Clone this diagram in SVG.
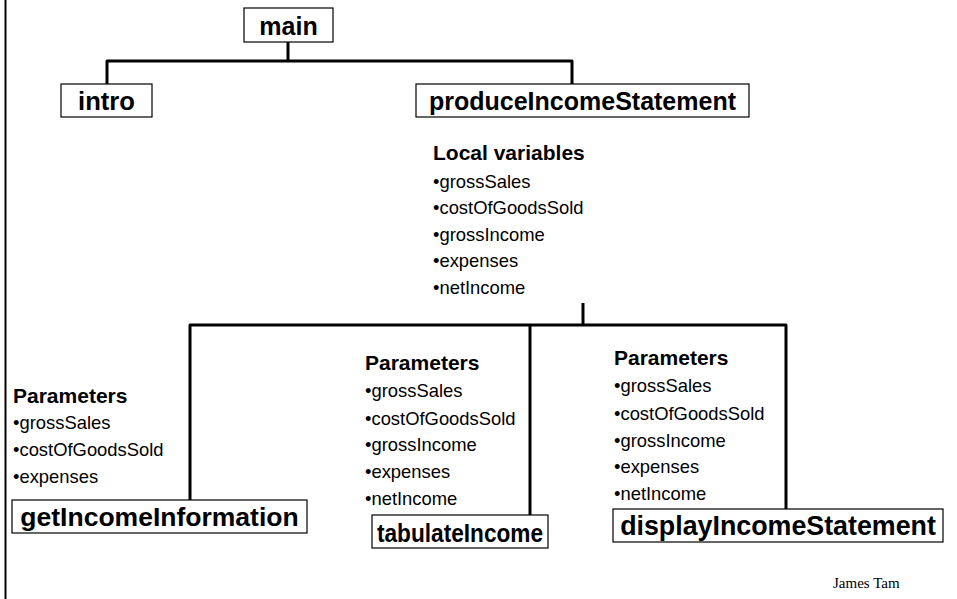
<svg xmlns="http://www.w3.org/2000/svg" width="957" height="599" viewBox="0 0 957 599">
  <style>
    .box { fill: #ffffff; stroke: #000000; stroke-width: 1.2; }
    .title { font-family: "Liberation Sans", Arial, sans-serif; font-weight: bold; fill: #000000; text-anchor: middle; }
    .head { font-family: "Liberation Sans", Arial, sans-serif; font-weight: bold; font-size: 21px; fill: #000000; }
    .item { font-family: "Liberation Sans", Arial, sans-serif; font-size: 18.4px; fill: #000000; }
    .wire { fill: none; stroke: #000000; stroke-width: 3; stroke-linejoin: round; }
  </style>

  <!-- page edge on the left -->
  <line x1="5.5" y1="0" x2="5.5" y2="599" stroke="#000000" stroke-width="2"/>

  <!-- connectors -->
  <g id="connectors">
    <path class="wire" d="M288 42 V61"/>
    <path class="wire" d="M107 84 V61 H572 V84"/>
    <path class="wire" d="M583 303 V325"/>
    <path class="wire" d="M190 500 V325 H786 V509"/>
    <path class="wire" d="M530 325 V515"/>
  </g>

  <g id="main">
    <rect class="box" x="244" y="8" width="89" height="34"/>
    <text class="title" x="288.5" y="35" font-size="25">main</text>
  </g>

  <g id="intro">
    <rect class="box" x="61" y="84" width="91" height="33"/>
    <text class="title" x="106.5" y="110" font-size="25.6">intro</text>
  </g>

  <g id="produceIncomeStatement">
    <rect class="box" x="416" y="84" width="333" height="33"/>
    <text class="title" x="582.5" y="110" font-size="25">produceIncomeStatement</text>
    <text class="head" x="433" y="160">Local variables</text>
    <text class="item" x="433" y="188">•grossSales</text>
    <text class="item" x="433" y="214">•costOfGoodsSold</text>
    <text class="item" x="433" y="240.5">•grossIncome</text>
    <text class="item" x="433" y="267">•expenses</text>
    <text class="item" x="433" y="293.5">•netIncome</text>
  </g>

  <g id="getIncomeInformation">
    <text class="head" x="13" y="403">Parameters</text>
    <text class="item" x="13" y="429">•grossSales</text>
    <text class="item" x="13" y="456">•costOfGoodsSold</text>
    <text class="item" x="13" y="482.5">•expenses</text>
    <rect class="box" x="12" y="500" width="295" height="33"/>
    <text class="title" x="159.5" y="526" font-size="26.5">getIncomeInformation</text>
  </g>

  <g id="tabulateIncome">
    <text class="head" x="365" y="370">Parameters</text>
    <text class="item" x="365" y="397">•grossSales</text>
    <text class="item" x="365" y="424.5">•costOfGoodsSold</text>
    <text class="item" x="365" y="451">•grossIncome</text>
    <text class="item" x="365" y="478">•expenses</text>
    <text class="item" x="365" y="505">•netIncome</text>
    <rect class="box" x="372" y="515" width="176" height="33"/>
    <text class="title" x="460" y="542" font-size="25" textLength="166" lengthAdjust="spacingAndGlyphs">tabulateIncome</text>
  </g>

  <g id="displayIncomeStatement">
    <text class="head" x="614" y="365" font-size="23.7">Parameters</text>
    <text class="item" x="614" y="392" font-size="19.5">•grossSales</text>
    <text class="item" x="614" y="419.5" font-size="19.5">•costOfGoodsSold</text>
    <text class="item" x="614" y="446.5" font-size="19.5">•grossIncome</text>
    <text class="item" x="614" y="473" font-size="19.5">•expenses</text>
    <text class="item" x="614" y="500" font-size="19.5">•netIncome</text>
    <rect class="box" x="613" y="509" width="330" height="33"/>
    <text class="title" x="778" y="535" font-size="26.8">displayIncomeStatement</text>
  </g>

  <text x="833" y="588" font-family="'Liberation Serif', 'Times New Roman', serif" font-size="15" fill="#000000">James Tam</text>
</svg>
